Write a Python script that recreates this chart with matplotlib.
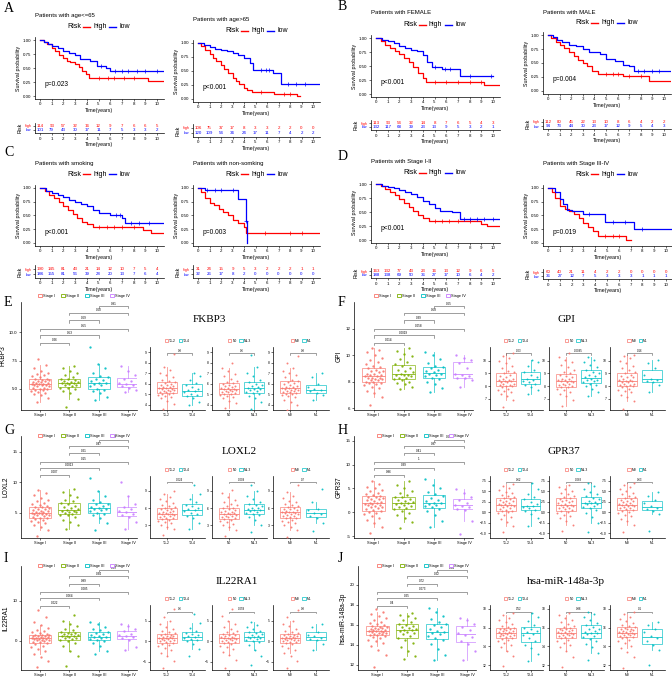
import matplotlib.pyplot as plt
import numpy as np
from matplotlib.lines import Line2D
from matplotlib.patches import Patch
from matplotlib.transforms import blended_transform_factory

plt.rcParams.update({
    'font.family': 'Liberation Sans',
    'axes.linewidth': 0.5,
    'xtick.major.width': 0.4, 'ytick.major.width': 0.4,
    'xtick.major.size': 1.5, 'ytick.major.size': 1.5,
    'xtick.major.pad': 1, 'ytick.major.pad': 1,
})

RED, BLUE = '#FF0000', '#0000FF'
STAGE_COLORS = ['#F8766D', '#7CAE00', '#00BFC4', '#C77CFF']
PAIR_COLORS = ['#F8766D', '#00BFC4']
STAGES = ['Stage I', 'Stage II', 'Stage III', 'Stage IV']
YEARS = list(range(11))

# ---------------- survival data (step times / survival, end of follow-up, censor times) ----------------
a1_high_t = [0, 0.3, 0.6, 1.0, 1.3, 1.6, 2.0, 2.3, 2.6, 3.0, 3.3, 3.6, 3.9, 4.2, 9.2]
a1_high_s = [1.0, 0.96, 0.92, 0.86, 0.80, 0.74, 0.68, 0.63, 0.60, 0.57, 0.51, 0.45, 0.39, 0.33, 0.27]
a1_low_t = [0, 0.3, 0.7, 1.0, 1.5, 2.0, 2.5, 3.0, 3.4, 4.3, 4.9, 5.6, 6.0]
a1_low_s = [1.0, 0.97, 0.93, 0.89, 0.85, 0.81, 0.76, 0.73, 0.66, 0.62, 0.53, 0.50, 0.45]
a2_high_t = [0, 0.3, 0.6, 1.0, 1.3, 1.6, 2.0, 2.3, 2.6, 3.0, 3.3, 3.6, 4.0, 4.3, 4.7, 6.6, 8.6]
a2_high_s = [1.0, 0.95, 0.88, 0.80, 0.74, 0.68, 0.60, 0.54, 0.47, 0.38, 0.33, 0.27, 0.20, 0.16, 0.13, 0.09, 0.05]
a2_low_t = [0, 0.5, 1.0, 1.5, 2.0, 2.5, 3.0, 3.5, 4.0, 4.5, 4.8, 6.5, 7.2]
a2_low_s = [1.0, 0.96, 0.93, 0.90, 0.87, 0.85, 0.82, 0.78, 0.74, 0.65, 0.52, 0.47, 0.27]
b1_high_t = [0, 0.4, 0.8, 1.2, 1.6, 2.0, 2.4, 2.8, 3.2, 3.6, 4.0, 4.3, 9.2]
b1_high_s = [1.0, 0.95, 0.88, 0.82, 0.76, 0.71, 0.64, 0.57, 0.48, 0.38, 0.28, 0.22, 0.16]
b1_low_t = [0, 0.5, 1.0, 1.5, 2.0, 2.5, 3.0, 3.5, 4.0, 4.4, 4.8, 5.6, 7.2]
b1_low_s = [1.0, 0.97, 0.95, 0.91, 0.86, 0.83, 0.78, 0.76, 0.70, 0.57, 0.48, 0.44, 0.33]
b2_high_t = [0, 0.3, 0.7, 1.0, 1.4, 1.8, 2.2, 2.6, 3.0, 3.4, 3.8, 4.3, 6.5, 8.7]
b2_high_s = [1.0, 0.94, 0.87, 0.82, 0.76, 0.70, 0.62, 0.56, 0.50, 0.45, 0.36, 0.31, 0.27, 0.18]
b2_low_t = [0, 0.4, 0.8, 1.2, 1.8, 2.4, 3.0, 3.5, 4.5, 5.0, 5.8, 6.5, 7.0, 7.4]
b2_low_s = [1.0, 0.96, 0.91, 0.87, 0.83, 0.80, 0.75, 0.70, 0.66, 0.58, 0.53, 0.47, 0.44, 0.36]
c1_high_t = [0, 0.4, 0.8, 1.2, 1.6, 2.0, 2.4, 2.8, 3.2, 3.6, 4.0, 4.5, 8.8, 9.5]
c1_high_s = [1.0, 0.94, 0.88, 0.81, 0.74, 0.67, 0.60, 0.53, 0.46, 0.39, 0.34, 0.29, 0.23, 0.19]
c1_low_t = [0, 0.5, 1.0, 1.5, 2.0, 2.5, 3.0, 3.5, 4.0, 4.5, 5.0, 6.0, 7.0, 7.3]
c1_low_s = [1.0, 0.95, 0.91, 0.87, 0.83, 0.78, 0.74, 0.70, 0.67, 0.60, 0.54, 0.50, 0.45, 0.37]
c2_high_t = [0, 0.3, 0.6, 1.0, 1.4, 1.8, 2.2, 2.6, 3.0, 3.5, 4.0, 4.2]
c2_high_s = [1.0, 0.92, 0.82, 0.73, 0.69, 0.62, 0.56, 0.50, 0.42, 0.37, 0.30, 0.18]
c2_low_t = [0, 0.6, 3.5, 4.2, 4.25]
c2_low_s = [1.0, 0.96, 0.80, 0.40, 0.0]
d1_high_t = [0, 0.4, 0.8, 1.2, 1.6, 2.0, 2.4, 2.8, 3.2, 3.6, 4.0, 4.5, 9.0, 9.5]
d1_high_s = [1.0, 0.96, 0.91, 0.86, 0.80, 0.73, 0.66, 0.59, 0.52, 0.45, 0.39, 0.34, 0.29, 0.25]
d1_low_t = [0, 0.5, 1.0, 1.5, 2.0, 2.5, 3.0, 3.5, 4.0, 4.5, 5.0, 5.5, 6.5, 7.2]
d1_low_s = [1.0, 0.97, 0.95, 0.92, 0.90, 0.86, 0.82, 0.76, 0.70, 0.64, 0.57, 0.52, 0.50, 0.37]
d2_high_t = [0, 0.3, 0.6, 1.0, 1.4, 1.8, 2.2, 2.6, 3.0, 3.4, 3.8, 4.2, 6.6]
d2_high_s = [1.0, 0.92, 0.82, 0.68, 0.62, 0.58, 0.52, 0.45, 0.37, 0.30, 0.22, 0.12, 0.06]
d2_low_t = [0, 0.6, 1.0, 1.3, 1.6, 2.0, 3.0, 4.8, 7.3]
d2_low_s = [1.0, 0.92, 0.80, 0.70, 0.60, 0.58, 0.52, 0.39, 0.26]

km_end = {'a1': (10.5, 10.5), 'a2': (8.9, 10.5), 'b1': (10.5, 10.0), 'b2': (10.5, 10.5),
          'c1': (10.5, 10.5), 'c2': (10.5, 4.25), 'd1': (10.5, 10.5), 'd2': (7.0, 10.5)}
km_censor = {
    'a1': ([5.0, 5.8, 6.3, 7.2, 8.0], [5.2, 6.4, 7.0, 7.5, 8.3, 9.0, 10.0]),
    'a2': ([5.5, 7.5, 8.0], [5.5, 5.9, 6.2, 7.8, 8.5, 9.3]),
    'b1': ([5.0, 6.0, 7.0, 8.0, 9.0], [5.0, 5.9, 6.3, 8.0, 9.8]),
    'b2': ([5.0, 5.6, 6.0, 7.0, 8.0], [7.8, 8.3, 9.0, 9.6]),
    'c1': ([5.0, 5.7, 6.3, 7.0, 8.0], [6.5, 6.8, 7.8, 8.5, 9.3]),
    'c2': ([5.8, 8.0, 9.0], [0.8, 1.5, 2.0, 3.0, 4.2]),
    'd1': ([5.0, 5.6, 6.2, 7.0, 8.0], [7.5, 8.0, 8.6, 9.2, 10.0]),
    'd2': ([4.8, 5.5, 6.0], [3.5, 5.5, 6.5, 8.0]),
}

a1_risk_high = [114, 93, 57, 32, 16, 12, 9, 7, 6, 6, 5]
a1_risk_low = [101, 79, 43, 30, 17, 11, 7, 5, 3, 3, 2]
a2_risk_high = [106, 75, 37, 17, 8, 3, 3, 2, 2, 0, 0]
a2_risk_low = [120, 109, 54, 34, 24, 17, 11, 7, 4, 2, 2]
b1_risk_high = [113, 93, 54, 32, 14, 8, 7, 6, 5, 4, 3]
b1_risk_low = [132, 117, 68, 39, 23, 13, 9, 5, 3, 2, 1]
b2_risk_high = [112, 80, 45, 22, 13, 10, 8, 6, 4, 2, 2]
b2_risk_low = [94, 73, 44, 30, 23, 17, 12, 9, 5, 4, 3]
c1_risk_high = [190, 145, 81, 43, 21, 14, 12, 10, 7, 5, 4]
c1_risk_low = [186, 155, 81, 56, 39, 28, 20, 13, 7, 6, 4]
c2_risk_high = [31, 24, 15, 9, 5, 3, 2, 2, 2, 1, 1]
c2_risk_low = [32, 26, 17, 8, 2, 0, 0, 0, 0, 0, 0]
d1_risk_high = [163, 132, 77, 43, 23, 16, 13, 12, 9, 6, 5]
d1_risk_low = [188, 138, 69, 50, 36, 27, 17, 10, 6, 4, 2]
d2_risk_high = [60, 40, 21, 11, 4, 2, 2, 0, 0, 0, 0]
d2_risk_low = [36, 27, 12, 7, 5, 3, 3, 3, 1, 1, 1]

km_titles = ['Patients with age<=65', 'Patients with age>65', 'Patients with FEMALE', 'Patients with MALE',
             'Patients with smoking', 'Patients with non-somking', 'Patients with Stage I-II',
             'Patients with Stage III-IV']
km_pvals = ['p=0.023', 'p<0.001', 'p<0.001', 'p=0.004', 'p<0.001', 'p=0.003', 'p<0.001', 'p=0.019']

fkbp3_s1 = [3.8, 4.2, 4.4, 4.5, 4.6, 4.7, 4.8, 4.9, 4.9, 5.0, 5.0, 5.1, 5.1, 5.2, 5.2, 5.3, 5.3, 5.3, 5.4, 5.4,
            5.4, 5.5, 5.5, 5.6, 5.6, 5.7, 5.7, 5.8, 5.8, 5.9, 5.9, 6.0, 6.1, 6.2, 6.3, 6.4, 6.6, 6.8, 7.1, 7.6]
fkbp3_s2 = [3.4, 4.1, 4.6, 4.8, 5.0, 5.1, 5.1, 5.2, 5.3, 5.3, 5.4, 5.5, 5.5, 5.5, 5.6, 5.6, 5.7, 5.8, 5.9, 5.9,
            6.0, 6.2, 6.4, 6.6, 6.8, 7.0]
fkbp3_s3 = [4.0, 4.3, 4.6, 4.8, 4.9, 5.0, 5.2, 5.3, 5.4, 5.5, 5.5, 5.7, 5.8, 5.9, 6.0, 6.1, 6.4, 6.8, 7.2, 8.7]
fkbp3_s4 = [4.7, 4.9, 5.1, 5.2, 5.3, 5.4, 5.5, 5.7, 5.9, 6.2, 6.6, 7.0]
fkbp3_t12 = [3.6, 4.1, 4.4, 4.6, 4.7, 4.8, 4.9, 5.0, 5.0, 5.1, 5.2, 5.2, 5.3, 5.3, 5.4, 5.4, 5.5, 5.5, 5.6, 5.6,
             5.7, 5.7, 5.8, 5.9, 5.9, 6.0, 6.1, 6.2, 6.3, 6.4, 6.6, 6.8, 7.0, 7.3, 7.6, 8.8]
fkbp3_t34 = [4.0, 4.3, 4.6, 4.8, 4.9, 5.0, 5.2, 5.3, 5.4, 5.5, 5.7, 5.9, 6.1, 6.4, 6.7, 7.0]
fkbp3_n0 = [3.7, 4.2, 4.4, 4.6, 4.7, 4.8, 4.9, 5.0, 5.0, 5.1, 5.2, 5.2, 5.3, 5.3, 5.4, 5.4, 5.5, 5.5, 5.6, 5.6,
            5.7, 5.8, 5.8, 5.9, 6.0, 6.1, 6.2, 6.3, 6.5, 6.7, 6.9, 7.2, 7.5, 8.0]
fkbp3_n13 = [3.6, 4.3, 4.6, 4.8, 5.0, 5.1, 5.2, 5.3, 5.4, 5.5, 5.5, 5.6, 5.7, 5.8, 5.9, 6.0, 6.2, 6.4, 6.7, 7.0,
             7.6, 8.7]
fkbp3_m0 = [3.5, 4.0, 4.3, 4.5, 4.7, 4.8, 4.9, 5.0, 5.0, 5.1, 5.2, 5.2, 5.3, 5.3, 5.4, 5.4, 5.5, 5.5, 5.6, 5.6,
            5.7, 5.7, 5.8, 5.9, 6.0, 6.1, 6.2, 6.3, 6.4, 6.6, 6.8, 7.0, 7.2, 7.5, 8.0, 8.6]
fkbp3_m1 = [4.5, 4.9, 5.1, 5.3, 5.4, 5.5, 5.7, 6.0, 6.6, 7.0]
fkbp3_p_stage = ['0.26', '0.53', '0.55', '0.69', '0.60', '0.91']
fkbp3_p_tnm = ['0.8', '0.6', '0.8']

gpi_s1 = [6.2, 6.8, 7.1, 7.3, 7.5, 7.6, 7.7, 7.8, 7.9, 7.9, 8.0, 8.0, 8.1, 8.1, 8.2, 8.2, 8.3, 8.3, 8.3, 8.4,
          8.4, 8.5, 8.5, 8.6, 8.6, 8.7, 8.8, 8.8, 8.9, 9.0, 9.1, 9.2, 9.3, 9.5, 9.6, 9.8, 10.0, 10.2, 10.4, 10.5]
gpi_s2 = [7.4, 7.6, 7.8, 7.9, 8.0, 8.1, 8.2, 8.3, 8.3, 8.4, 8.5, 8.5, 8.5, 8.6, 8.7, 8.8, 8.9, 9.0, 9.2, 9.3,
          9.5, 9.7, 9.9, 10.1, 10.3, 10.5]
gpi_s3 = [7.2, 7.5, 7.8, 8.0, 8.2, 8.3, 8.4, 8.5, 8.6, 8.6, 8.7, 8.8, 8.9, 9.0, 9.1, 9.2, 9.4, 9.7, 10.0, 10.2]
gpi_s4 = [7.6, 8.1, 8.3, 8.3, 8.4, 8.5, 8.6, 9.0, 9.4, 9.6, 9.8, 10.0]
gpi_t12 = [6.3, 6.9, 7.2, 7.4, 7.5, 7.6, 7.7, 7.8, 7.9, 8.0, 8.0, 8.1, 8.1, 8.2, 8.2, 8.3, 8.3, 8.4, 8.4, 8.5,
           8.5, 8.6, 8.6, 8.7, 8.8, 8.9, 9.0, 9.1, 9.2, 9.4, 9.6, 9.8, 10.0, 10.2, 10.4, 10.6]
gpi_t34 = [7.4, 7.7, 7.9, 8.1, 8.2, 8.3, 8.4, 8.5, 8.6, 8.7, 8.9, 9.1, 9.3, 9.6, 9.9, 10.1]
gpi_n0 = [6.4, 6.9, 7.2, 7.4, 7.5, 7.7, 7.8, 7.9, 7.9, 8.0, 8.1, 8.1, 8.2, 8.2, 8.3, 8.3, 8.4, 8.4, 8.5, 8.5,
          8.6, 8.6, 8.7, 8.8, 8.9, 9.0, 9.1, 9.3, 9.5, 9.7, 9.9, 10.1, 10.3, 10.6]
gpi_n13 = [7.2, 7.5, 7.8, 8.0, 8.1, 8.2, 8.3, 8.4, 8.5, 8.5, 8.6, 8.7, 8.8, 8.9, 9.0, 9.1, 9.3, 9.5, 9.7, 9.9,
           10.1, 10.3]
gpi_m0 = [6.2, 6.8, 7.1, 7.3, 7.5, 7.6, 7.7, 7.8, 7.9, 8.0, 8.0, 8.1, 8.1, 8.2, 8.2, 8.3, 8.3, 8.4, 8.4, 8.5,
          8.5, 8.6, 8.7, 8.7, 8.8, 8.9, 9.0, 9.1, 9.3, 9.4, 9.6, 9.8, 10.0, 10.2, 10.4, 10.5]
gpi_m1 = [7.5, 8.1, 8.3, 8.4, 8.5, 8.6, 8.9, 9.4, 9.8, 10.1]
gpi_p_stage = ['0.014', '0.0019', '0.058', '0.39', '0.58', '0.65']
gpi_p_tnm = ['0.03', '0.0095', '0.16']

loxl2_s1 = [1.2, 2.2, 2.7, 3.0, 3.3, 3.5, 3.7, 3.9, 4.0, 4.1, 4.2, 4.4, 4.5, 4.6, 4.7, 4.8, 4.9, 4.9, 5.0, 5.0,
            5.1, 5.2, 5.3, 5.4, 5.5, 5.6, 5.7, 5.8, 5.9, 6.0, 6.2, 6.3, 6.5, 6.7, 6.9, 7.2, 7.5, 7.9, 8.3, 8.8]
loxl2_s2 = [2.3, 3.0, 3.5, 3.9, 4.3, 4.6, 4.7, 4.9, 5.0, 5.1, 5.2, 5.3, 5.4, 5.5, 5.6, 5.8, 6.0, 6.2, 6.4, 6.6,
            6.9, 7.2, 7.6, 8.0, 8.5, 9.0]
loxl2_s3 = [2.2, 3.4, 4.1, 4.6, 4.8, 5.0, 5.3, 5.5, 5.6, 5.7, 5.8, 6.0, 6.2, 6.4, 6.5, 6.8, 7.2, 7.8, 8.6, 10.7]
loxl2_s4 = [2.3, 3.6, 4.4, 4.6, 4.9, 5.1, 5.3, 5.6, 5.9, 6.5, 7.7, 10.1]
loxl2_t12 = [1.3, 2.3, 2.8, 3.1, 3.4, 3.6, 3.8, 4.0, 4.1, 4.2, 4.3, 4.5, 4.6, 4.7, 4.8, 4.9, 5.0, 5.0, 5.1, 5.2,
             5.3, 5.4, 5.5, 5.6, 5.8, 5.9, 6.0, 6.2, 6.4, 6.6, 6.9, 7.2, 7.6, 8.0, 8.5, 9.0]
loxl2_t34 = [2.3, 3.4, 4.2, 4.7, 4.9, 5.2, 5.5, 5.6, 5.8, 6.0, 6.3, 6.6, 7.0, 7.6, 8.5, 10.0]
loxl2_n0 = [1.2, 2.2, 2.7, 3.0, 3.3, 3.6, 3.8, 4.0, 4.1, 4.2, 4.4, 4.5, 4.6, 4.7, 4.8, 4.9, 5.0, 5.1, 5.2, 5.3,
            5.4, 5.5, 5.7, 5.8, 6.0, 6.1, 6.3, 6.5, 6.8, 7.1, 7.5, 8.0, 8.6, 9.1]
loxl2_n13 = [1.8, 3.1, 3.9, 4.4, 4.8, 5.0, 5.2, 5.3, 5.5, 5.6, 5.7, 5.8, 6.0, 6.1, 6.3, 6.5, 6.8, 7.1, 7.6, 8.2,
             9.0, 10.0]
loxl2_m0 = [1.0, 2.2, 2.7, 3.1, 3.4, 3.6, 3.8, 4.0, 4.2, 4.3, 4.4, 4.6, 4.7, 4.8, 4.9, 5.0, 5.1, 5.2, 5.3, 5.3,
            5.4, 5.5, 5.6, 5.8, 5.9, 6.0, 6.2, 6.3, 6.5, 6.7, 7.0, 7.3, 7.7, 8.2, 8.8, 10.0]
loxl2_m1 = [2.0, 3.5, 4.3, 4.6, 5.0, 5.2, 5.6, 5.9, 7.0, 9.3]
loxl2_p_stage = ['0.007', '0.0013', '0.15', '0.21', '0.47', '0.13']
loxl2_p_tnm = ['0.024', '0.009', '0.7']

gpr37_s1 = [-4.4, -3.0, -2.2, -1.6, -1.1, -0.7, -0.4, -0.1, 0.1, 0.2, 0.4, 0.6, 0.8, 1.0, 1.2, 1.4, 1.5, 1.6,
            1.7, 1.8, 1.9, 2.0, 2.2, 2.4, 2.5, 2.7, 2.8, 3.0, 3.2, 3.3, 3.5, 3.7, 3.9, 4.1, 4.4, 4.7, 5.0, 5.4,
            5.9, 6.5]
gpr37_s2 = [-3.2, -2.0, -1.2, -0.6, -0.1, 0.3, 0.6, 0.9, 1.2, 1.4, 1.6, 1.8, 1.9, 2.0, 2.2, 2.4, 2.6, 2.8, 3.1,
            3.3, 3.6, 4.0, 4.4, 5.0, 5.7, 6.5]
gpr37_s3 = [-3.0, -1.8, -0.6, 0.2, 0.7, 1.0, 1.3, 1.6, 1.8, 1.9, 2.0, 2.3, 2.6, 3.0, 3.5, 3.8, 4.3, 5.0, 5.8, 7.0]
gpr37_s4 = [-4.5, -1.9, 0.4, 0.7, 1.1, 1.4, 1.6, 2.0, 2.6, 3.1, 4.0, 4.8]
gpr37_t12 = [-4.8, -3.2, -2.3, -1.6, -1.1, -0.7, -0.3, 0.0, 0.2, 0.4, 0.6, 0.8, 1.0, 1.2, 1.4, 1.6, 1.7, 1.8,
             1.9, 2.0, 2.2, 2.4, 2.6, 2.8, 3.0, 3.2, 3.4, 3.6, 3.9, 4.2, 4.5, 4.9, 5.3, 5.8, 6.3, 6.8]
gpr37_t34 = [-3.3, -1.5, -0.5, 0.3, 0.6, 0.9, 1.2, 1.4, 1.6, 2.0, 2.5, 3.1, 3.6, 4.3, 5.5, 7.0]
gpr37_n0 = [-4.6, -3.0, -2.1, -1.5, -1.0, -0.6, -0.2, 0.1, 0.3, 0.5, 0.7, 0.9, 1.1, 1.3, 1.5, 1.6, 1.7, 1.8,
            2.0, 2.2, 2.4, 2.6, 2.8, 3.0, 3.2, 3.4, 3.7, 4.0, 4.3, 4.7, 5.1, 5.6, 6.1, 6.6]
gpr37_n13 = [-4.8, -2.5, -1.2, -0.3, 0.5, 0.9, 1.3, 1.6, 1.9, 2.0, 2.1, 2.3, 2.5, 2.8, 3.1, 3.4, 3.8, 4.3, 4.9,
             5.5, 6.2, 7.0]
gpr37_m0 = [-4.7, -3.1, -2.2, -1.6, -1.0, -0.6, -0.2, 0.1, 0.3, 0.5, 0.7, 0.9, 1.1, 1.3, 1.5, 1.6, 1.7, 1.8,
            1.9, 2.0, 2.2, 2.4, 2.6, 2.8, 3.0, 3.2, 3.4, 3.7, 4.0, 4.3, 4.7, 5.1, 5.6, 6.0, 6.5, 7.0]
gpr37_m1 = [-4.4, -0.5, 0.3, 0.8, 1.1, 1.5, 2.2, 2.9, 3.8, 4.8]
gpr37_p_stage = ['0.86', '0.39', '1', '0.41', '0.97', '0.63']
gpr37_p_tnm = ['0.62', '0.083', '0.63']

il22ra1_s1 = [-6.5, -5.0, -4.0, -3.2, -2.6, -2.0, -1.6, -1.2, -0.9, -0.6, -0.4, -0.2, 0.0, 0.1, 0.2, 0.3, 0.4,
              0.5, 0.5, 0.6, 0.7, 0.8, 0.9, 1.0, 1.1, 1.2, 1.3, 1.4, 1.5, 1.5, 1.7, 1.9, 2.1, 2.4, 2.8, 3.3, 4.0,
              4.8, 5.9, 7.8]
il22ra1_s2 = [-6.2, -3.8, -2.5, -1.4, -0.6, 0.0, 0.2, 0.4, 0.6, 0.8, 1.0, 1.1, 1.2, 1.3, 1.5, 1.6, 1.8, 1.9,
              2.0, 2.3, 2.6, 3.0, 3.6, 4.2, 5.0, 6.5]
il22ra1_s3 = [-3.3, -2.5, -1.4, -0.5, 0.0, 0.2, 0.5, 0.7, 0.9, 1.0, 1.1, 1.4, 1.7, 2.0, 2.2, 2.6, 3.0, 3.5, 4.1,
              4.6]
il22ra1_s4 = [-2.2, -1.5, 0.2, 0.6, 1.0, 1.2, 1.4, 1.8, 2.4, 3.0, 3.8, 4.3]
il22ra1_t12 = [-6.6, -4.8, -3.6, -2.8, -2.1, -1.6, -1.2, -0.9, -0.6, -0.4, -0.2, 0.0, 0.1, 0.3, 0.4, 0.5, 0.6,
               0.7, 0.8, 0.9, 1.0, 1.1, 1.2, 1.3, 1.4, 1.5, 1.7, 1.9, 2.2, 2.5, 2.9, 3.5, 4.2, 5.0, 6.0, 7.8]
il22ra1_t34 = [-3.5, -1.8, -0.8, 0.0, 0.3, 0.6, 0.8, 1.0, 1.2, 1.5, 1.8, 2.1, 2.6, 3.3, 4.4, 6.5]
il22ra1_n0 = [-6.4, -4.5, -3.4, -2.6, -2.0, -1.5, -1.1, -0.8, -0.5, -0.3, -0.1, 0.1, 0.2, 0.4, 0.5, 0.6, 0.7,
              0.8, 0.9, 1.0, 1.1, 1.2, 1.4, 1.5, 1.7, 1.9, 2.2, 2.5, 2.9, 3.4, 4.1, 5.0, 6.1, 7.8]
il22ra1_n13 = [-5.8, -3.5, -2.2, -1.0, -0.3, 0.0, 0.3, 0.5, 0.7, 0.9, 1.0, 1.1, 1.3, 1.5, 1.8, 2.0, 2.2, 2.6,
               3.0, 3.5, 4.0, 4.6]
il22ra1_m0 = [-6.5, -4.8, -3.7, -2.8, -2.1, -1.6, -1.2, -0.8, -0.5, -0.3, -0.1, 0.1, 0.2, 0.3, 0.4, 0.5, 0.6,
              0.7, 0.8, 0.9, 1.0, 1.1, 1.2, 1.3, 1.5, 1.6, 1.8, 2.0, 2.3, 2.6, 3.0, 3.6, 4.3, 5.0, 5.9, 7.5]
il22ra1_m1 = [-2.2, -0.6, 0.2, 0.5, 0.8, 1.2, 1.6, 2.3, 3.4, 4.3]
il22ra1_p_stage = ['0.022', '0.064', '0.085', '0.89', '0.34', '0.59']
il22ra1_p_tnm = ['0.6', '0.059', '0.8']

mir148_s1 = [11.8, 13.0, 13.5, 13.9, 14.2, 14.4, 14.5, 14.7, 14.8, 14.9, 15.0, 15.0, 15.1, 15.1, 15.2, 15.2,
             15.3, 15.3, 15.4, 15.4, 15.4, 15.5, 15.5, 15.6, 15.6, 15.7, 15.7, 15.8, 15.8, 15.9, 16.0, 16.1,
             16.2, 16.3, 16.5, 16.7, 16.9, 17.1, 17.3, 17.6]
mir148_s2 = [12.6, 12.9, 13.4, 13.8, 14.2, 14.5, 14.7, 14.9, 15.1, 15.2, 15.3, 15.4, 15.5, 15.5, 15.6, 15.7,
             15.8, 15.9, 16.0, 16.1, 16.3, 16.5, 16.7, 16.9, 17.0, 17.2]
mir148_s3 = [12.5, 13.0, 13.6, 14.1, 14.5, 14.7, 14.9, 15.1, 15.2, 15.3, 15.4, 15.6, 15.8, 16.0, 16.1, 16.3,
             16.6, 16.9, 17.3, 17.7]
mir148_s4 = [12.5, 13.4, 14.1, 14.4, 14.8, 15.0, 15.2, 15.5, 15.8, 16.1, 16.5, 16.7]
mir148_t12 = [11.9, 13.0, 13.5, 13.9, 14.2, 14.4, 14.6, 14.7, 14.8, 14.9, 15.0, 15.1, 15.1, 15.2, 15.2, 15.3,
              15.3, 15.4, 15.4, 15.5, 15.5, 15.6, 15.6, 15.7, 15.8, 15.8, 15.9, 16.0, 16.1, 16.2, 16.4, 16.6,
              16.8, 17.0, 17.3, 17.6]
mir148_t34 = [12.5, 13.2, 13.8, 14.2, 14.6, 14.9, 15.2, 15.3, 15.5, 15.6, 15.8, 16.0, 16.3, 16.7, 17.1, 17.6]
mir148_n0 = [11.8, 12.9, 13.5, 13.9, 14.2, 14.4, 14.6, 14.7, 14.9, 15.0, 15.0, 15.1, 15.2, 15.2, 15.3, 15.3,
             15.4, 15.4, 15.5, 15.5, 15.6, 15.7, 15.7, 15.8, 15.9, 16.0, 16.1, 16.2, 16.4, 16.6, 16.8, 17.0,
             17.3, 17.6]
mir148_n13 = [12.6, 13.3, 13.9, 14.3, 14.6, 14.8, 15.0, 15.1, 15.3, 15.4, 15.4, 15.5, 15.6, 15.8, 15.9, 16.1,
              16.3, 16.5, 16.8, 17.1, 17.4, 17.7]
mir148_m0 = [11.7, 12.9, 13.4, 13.8, 14.1, 14.4, 14.6, 14.7, 14.9, 15.0, 15.0, 15.1, 15.2, 15.2, 15.3, 15.3,
             15.4, 15.4, 15.5, 15.5, 15.6, 15.6, 15.7, 15.8, 15.8, 15.9, 16.0, 16.1, 16.2, 16.3, 16.5, 16.7,
             16.9, 17.1, 17.4, 17.7]
mir148_m1 = [12.0, 13.6, 14.2, 14.6, 14.9, 15.1, 15.5, 15.9, 16.3, 16.6]
mir148_p_stage = ['0.4', '0.25', '0.073', '0.72', '0.22', '0.34']
mir148_p_tnm = ['0.52', '0.88', '0.1']

PAIRS = [(1, 2), (1, 3), (1, 4), (2, 3), (2, 4), (3, 4)]
TNM_LABELS = [('T1-2', 'T3-4'), ('N0', 'N1-3'), ('M0', 'M1')]

# ---------------- figure ----------------
W, H = 672, 681
fig = plt.figure(figsize=(W / 100, H / 100), dpi=100)


def px_axes(x0, y0, x1, y1):
    return fig.add_axes([x0 / W, 1 - y1 / H, (x1 - x0) / W, (y1 - y0) / H])


def ftext(x, y, s, **kw):
    fig.text(x / W, 1 - y / H, s, **kw)


def classic(ax):
    ax.spines['top'].set_visible(False)
    ax.spines['right'].set_visible(False)


def km_plot(geom, key, title, ptxt, high, low, risk_high, risk_low):
    x0, x10, y1, y0, ty, ly, rh, rl = geom
    sx = (x10 - x0) / 10.0
    sy = y0 - y1
    ax = px_axes(x0 - 0.45 * sx, y1 - 0.05 * sy, x0 + 10.6 * sx, y0 + 0.05 * sy)
    ends = km_end[key]
    for k, ((t, s), col) in enumerate(((high, RED), (low, BLUE))):
        ax.step(t + [ends[k]], s + [s[-1]], where='post', color=col, lw=0.9)
        cens = np.array(km_censor[key][k])
        idx = np.searchsorted(t, cens, side='right') - 1
        ax.plot(cens, np.array(s)[idx], '+', color=col, ms=2.5, mew=0.5)
    ax.set_xlim(-0.45, 10.6)
    ax.set_ylim(-0.05, 1.05)
    ax.set_xticks(YEARS)
    ax.set_yticks([0, 0.25, 0.5, 0.75, 1.0])
    ax.set_yticklabels(['0.00', '0.25', '0.50', '0.75', '1.00'])
    ax.tick_params(labelsize=3.2)
    ax.set_xlabel('Time(years)', fontsize=3.8, labelpad=1)
    ax.set_ylabel('Survival probability', fontsize=3.8, labelpad=1.5)
    ax.text(0.35, 0.2, ptxt, fontsize=4.8, va='center')
    classic(ax)
    # title and legend
    ftext(x0 - 5, ty, title, fontsize=4.3, va='center')
    lx = x0 + 27
    ftext(lx, ly, 'Risk', fontsize=5, va='center')
    for off, col, lab in ((16, RED, 'high'), (42, BLUE, 'low')):
        fig.add_artist(Line2D([(lx + off) / W, (lx + off + 7) / W], [1 - ly / H] * 2, color=col, lw=1))
        ftext(lx + off + 10, ly, lab, fontsize=5, va='center')
    # risk table
    d = rl - rh
    rax = px_axes(x0 - 0.45 * sx, rh - 0.8 * d, x0 + 10.6 * sx, rl + 0.8 * d)
    for k in YEARS:
        rax.text(k, 1, str(risk_high[k]), color=RED, ha='center', va='center', fontsize=3.2)
        rax.text(k, 0, str(risk_low[k]), color=BLUE, ha='center', va='center', fontsize=3.2)
    rax.set_xlim(-0.45, 10.6)
    rax.set_ylim(-0.8, 1.8)
    rax.set_yticks([1, 0])
    rax.set_yticklabels(['high', 'low'], fontsize=2.6)
    for lab, col in zip(rax.get_yticklabels(), (RED, BLUE)):
        lab.set_color(col)
    rax.set_xticks(YEARS)
    rax.tick_params(axis='x', labelsize=3.2)
    rax.set_ylabel('Risk', fontsize=3.8, labelpad=1)
    rax.set_xlabel('Time(years)', fontsize=3.8, labelpad=1)
    classic(rax)


km_geoms = [
    (40, 157, 40, 96, 15, 27, 126, 130), (198, 313, 43, 99, 20, 31, 128, 133),
    (376, 493, 38, 94, 13, 25, 123, 127), (548, 664, 35, 91, 12, 23, 122, 126),
    (40, 157, 188, 243, 164, 174, 269, 274), (198, 313, 188, 243, 164, 174, 269, 274),
    (376, 493, 184, 240, 161, 173, 271, 275), (548, 666, 188, 243, 164, 174, 272, 276),
]
km_curves = [
    ('a1', (a1_high_t, a1_high_s), (a1_low_t, a1_low_s), a1_risk_high, a1_risk_low),
    ('a2', (a2_high_t, a2_high_s), (a2_low_t, a2_low_s), a2_risk_high, a2_risk_low),
    ('b1', (b1_high_t, b1_high_s), (b1_low_t, b1_low_s), b1_risk_high, b1_risk_low),
    ('b2', (b2_high_t, b2_high_s), (b2_low_t, b2_low_s), b2_risk_high, b2_risk_low),
    ('c1', (c1_high_t, c1_high_s), (c1_low_t, c1_low_s), c1_risk_high, c1_risk_low),
    ('c2', (c2_high_t, c2_high_s), (c2_low_t, c2_low_s), c2_risk_high, c2_risk_low),
    ('d1', (d1_high_t, d1_high_s), (d1_low_t, d1_low_s), d1_risk_high, d1_risk_low),
    ('d2', (d2_high_t, d2_high_s), (d2_low_t, d2_low_s), d2_risk_high, d2_risk_low),
]
for geom, (key, hi, lo, rhi, rlo), title, ptxt in zip(km_geoms, km_curves, km_titles, km_pvals):
    km_plot(geom, key, title, ptxt, hi, lo, rhi, rlo)


def draw_groups(ax, groups, colors, width, jit, size):
    pos = np.arange(1, len(groups) + 1)
    bp = ax.boxplot(groups, positions=pos, widths=width, showfliers=False, showcaps=False,
                    patch_artist=True, whis=1.5, zorder=1)
    for i, c in enumerate(colors):
        bp['boxes'][i].set(facecolor='white', edgecolor=c, linewidth=0.6, alpha=0.75)
        bp['medians'][i].set(color=c, linewidth=0.7, alpha=0.8)
        for w in bp['whiskers'][2 * i:2 * i + 2]:
            w.set(color=c, linewidth=0.6, alpha=0.75)
    for i, (vals, c) in enumerate(zip(groups, colors)):
        n = len(vals)
        off = ((np.arange(n) * 0.618034 + 0.31) % 1.0 - 0.5) * 2 * jit
        ax.scatter(pos[i] + off, vals, s=size, color=c, linewidths=0, zorder=3, alpha=0.9)


def bracket(ax, a, b, frac, label, fs):
    tr = blended_transform_factory(ax.transData, ax.transAxes)
    ax.plot([a, a, b, b], [frac - 0.02, frac, frac, frac - 0.02], transform=tr,
            color='#555555', lw=0.4, clip_on=False)
    ax.text((a + b) / 2, frac + 0.006, label, transform=tr, ha='center', va='bottom', fontsize=fs)


def box_panel(lay, gene, stage_groups, p_stage, tnm_groups, p_tnm, main_lim, main_ticks, tick_lbls,
              small_lim, small_ticks):
    mx0, my0, mx1, my1 = lay['main']
    ax = px_axes(mx0, my0, mx1, my1)
    draw_groups(ax, stage_groups, STAGE_COLORS, 0.75, 0.32, 2.8)
    ax.set_xlim(0.35, 4.3)
    ax.set_ylim(*main_lim)
    ax.set_xticks([1, 2, 3, 4])
    ax.set_xticklabels(STAGES, fontsize=2.8)
    ax.set_yticks(main_ticks)
    ax.set_yticklabels(tick_lbls, fontsize=3.2)
    ax.set_ylabel(gene, fontsize=4.8, labelpad=2)
    classic(ax)
    for (a, b), frac, lab in zip(PAIRS, [0.62, 0.69, 0.75, 0.83, 0.90, 0.96], p_stage):
        bracket(ax, a, b, frac, lab, 2.2)
    handles = [Patch(facecolor='white', edgecolor=c, linewidth=0.6) for c in STAGE_COLORS]
    ax.legend(handles, STAGES, ncol=4, loc='center',
              bbox_to_anchor=(lay['leg'][0] / W, 1 - lay['leg'][1] / H), bbox_transform=fig.transFigure,
              frameon=False, fontsize=2.8, handlelength=1.0, handleheight=1.0, handletextpad=0.4,
              columnspacing=1.3, borderpad=0)
    ftext(lay['title'][0], lay['title'][1], gene, fontsize=8, family='Liberation Serif',
          ha='center', va='center')
    sy0, sy1 = lay['small_y']
    for (sx0, sx1), grp, labels, p in zip(lay['small_x'], tnm_groups, TNM_LABELS, p_tnm):
        sax = px_axes(sx0, sy0, sx1, sy1)
        draw_groups(sax, grp, PAIR_COLORS, 0.78, 0.33, 2.0)
        sax.set_xlim(0.35, 2.5)
        sax.set_ylim(*small_lim)
        sax.set_xticks([1, 2])
        sax.set_xticklabels(labels, fontsize=2.4)
        sax.set_yticks(small_ticks)
        sax.tick_params(axis='y', labelsize=2.4)
        classic(sax)
        bracket(sax, 1, 2, 0.9, p, 2.0)
        hs = [Patch(facecolor='white', edgecolor=c, linewidth=0.5) for c in PAIR_COLORS]
        sax.legend(hs, labels, ncol=2, loc='center',
                   bbox_to_anchor=((sx0 + sx1) / 2 / W, 1 - (sy0 - 6) / H), bbox_transform=fig.transFigure,
                   frameon=False, fontsize=2.4, handlelength=1.0, handleheight=1.0, handletextpad=0.3,
                   columnspacing=0.8, borderpad=0)


LEFT_SMALL = [(150, 205), (212, 267), (273, 329)]
RIGHT_SMALL = [(490, 543), (549, 604), (610, 665)]
layouts = [
    dict(main=(21, 302, 137, 410), leg=(84, 296), title=(209, 320), small_x=LEFT_SMALL, small_y=(347, 410)),
    dict(main=(354, 302, 473, 410), leg=(420, 296), title=(566, 320), small_x=RIGHT_SMALL, small_y=(347, 410)),
    dict(main=(21, 436, 137, 538), leg=(84, 436), title=(239, 452), small_x=LEFT_SMALL, small_y=(476, 538)),
    dict(main=(354, 436, 473, 538), leg=(423, 436), title=(564, 452), small_x=RIGHT_SMALL, small_y=(476, 538)),
    dict(main=(21, 566, 137, 670), leg=(84, 566), title=(237, 582), small_x=LEFT_SMALL, small_y=(605, 670)),
    dict(main=(358, 566, 476, 670), leg=(423, 566), title=(566, 582), small_x=RIGHT_SMALL, small_y=(605, 670)),
]

box_panel(layouts[0], 'FKBP3', [fkbp3_s1, fkbp3_s2, fkbp3_s3, fkbp3_s4], fkbp3_p_stage,
          [(fkbp3_t12, fkbp3_t34), (fkbp3_n0, fkbp3_n13), (fkbp3_m0, fkbp3_m1)], fkbp3_p_tnm,
          (3.1, 12.7), [5.0, 7.5, 10.0], ['5.0', '7.5', '10.0'], (3.5, 9.5), [4, 5, 6, 7, 8, 9])
box_panel(layouts[1], 'GPI', [gpi_s1, gpi_s2, gpi_s3, gpi_s4], gpi_p_stage,
          [(gpi_t12, gpi_t34), (gpi_n0, gpi_n13), (gpi_m0, gpi_m1)], gpi_p_tnm,
          (5.85, 14.0), [6, 8, 10, 12], ['6', '8', '10', '12'], (6.1, 11.1), [7, 8, 9, 10])
box_panel(layouts[2], 'LOXL2', [loxl2_s1, loxl2_s2, loxl2_s3, loxl2_s4], loxl2_p_stage,
          [(loxl2_t12, loxl2_t34), (loxl2_n0, loxl2_n13), (loxl2_m0, loxl2_m1)], loxl2_p_tnm,
          (0.9, 17.6), [5, 10, 15], ['5', '10', '15'], (0.8, 11.6), [3, 6, 9])
box_panel(layouts[3], 'GPR37', [gpr37_s1, gpr37_s2, gpr37_s3, gpr37_s4], gpr37_p_stage,
          [(gpr37_t12, gpr37_t34), (gpr37_n0, gpr37_n13), (gpr37_m0, gpr37_m1)], gpr37_p_tnm,
          (-5.4, 16.0), [-5, 0, 5, 10, 15], ['-5', '0', '5', '10', '15'], (-6.2, 8.7),
          [-5.0, -2.5, 0.0, 2.5, 5.0, 7.5])
box_panel(layouts[4], 'IL22RA1', [il22ra1_s1, il22ra1_s2, il22ra1_s3, il22ra1_s4], il22ra1_p_stage,
          [(il22ra1_t12, il22ra1_t34), (il22ra1_n0, il22ra1_n13), (il22ra1_m0, il22ra1_m1)], il22ra1_p_tnm,
          (-7.3, 18.7), [0, 10], ['0', '10'], (-7.0, 8.8), [-5, 0, 5])
box_panel(layouts[5], 'hsa-miR-148a-3p', [mir148_s1, mir148_s2, mir148_s3, mir148_s4], mir148_p_stage,
          [(mir148_t12, mir148_t34), (mir148_n0, mir148_n13), (mir148_m0, mir148_m1)], mir148_p_tnm,
          (11.5, 21.9), [12, 14, 16, 18, 20], ['12', '14', '16', '18', '20'], (11.5, 18.4), [12, 14, 16, 18])

# panel letters
for letter, (x, y) in zip('ABCDEFGHIJ', [(4, 9), (338, 6), (4, 153), (338, 157), (4, 302), (338, 302),
                                          (4, 430), (338, 430), (4, 559), (338, 558)]):
    ftext(x, y, letter, fontsize=10, family='Liberation Serif', va='center')

plt.savefig('out.png', dpi=100)
